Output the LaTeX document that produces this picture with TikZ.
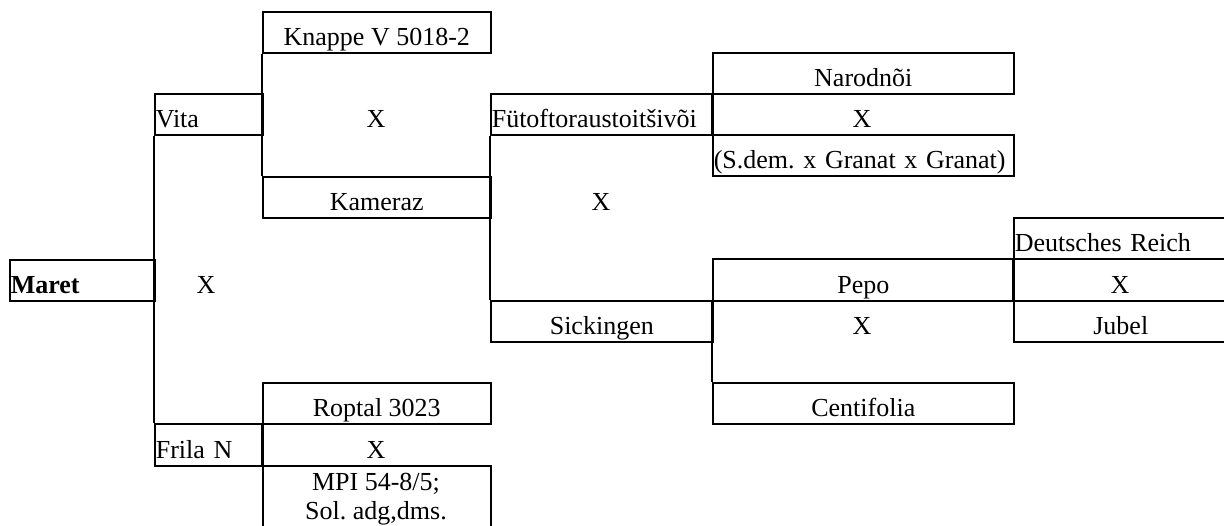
\documentclass[tikz,border=0pt]{standalone}
\usepackage{fontspec}
\setmainfont{Liberation Serif}
\begin{document}
\frenchspacing
\begin{tikzpicture}[x=1pt,y=-1pt,
  every node/.style={font=\fontsize{26}{30}\selectfont},
  ln/.style={line width=1.6pt},
  cell/.style={draw, line width=1.6pt, rectangle, anchor=north west, inner xsep=1pt, inner ysep=0pt,
    text height=34pt, text depth=7pt, minimum height=41pt},
  ccell/.style={cell},
  lcell/.style={cell, align=left},
  txt/.style={inner sep=0pt, anchor=base},
]
\useasboundingbox (0,0) rectangle (1224,525);

% column 1
\node[lcell, minimum width=145pt, text width=143pt, font=\fontsize{26}{30}\selectfont\bfseries] (maret) at (9,259) {Maret};
% column 2
\node[lcell, minimum width=108pt, text width=106pt] (vita) at (154,93) {Vita};
\node[lcell, minimum width=108pt, text width=106pt, minimum height=42pt] (frila) at (154,423) {Frila N};
% column 3
\node[ccell, minimum width=228pt] (knappe) at (262,11) {Knappe V 5018-2};
\node[ccell, minimum width=228pt] (kameraz) at (262,176) {Kameraz};
\node[ccell, minimum width=228pt] (roptal) at (262,382) {Roptal 3023};
\node[draw, line width=1.6pt, rectangle, anchor=north west, inner sep=0pt, minimum width=228pt, minimum height=80pt] (mpi) at (262,465) {};
% column 4
\node[lcell, minimum width=222pt, text width=220pt] (fut) at (490,93) {\mbox{Fütoftoraustoitšivõi}};
\node[ccell, minimum width=222pt] (sick) at (490,300) {Sickingen};
% column 5
\node[ccell, minimum width=301pt] (narod) at (712,52) {Narodnõi};
\node[lcell, minimum width=301pt, text width=299pt] (sdem) at (712,134) {\mbox{(S.dem. x Granat x Granat)}};
\node[ccell, minimum width=301pt, minimum height=42pt] (pepo) at (712,258) {Pepo};
\node[ccell, minimum width=301pt] (centi) at (712,382) {Centifolia};
% column 6
\node[lcell, minimum width=214pt, text width=212pt] (dr) at (1013,217) {\mbox{Deutsches Reich}};
\node[ccell, minimum width=214pt] (jubel) at (1013,300) {Jubel};

% connectors
\draw[ln] (vita.south west) -- (frila.north west);
\draw[ln] (knappe.south west) -- (kameraz.north west);
\draw[ln] (roptal.south west) -- (mpi.north west);
\draw[ln] (fut.south west) -- (sick.north west);
\draw[ln] (narod.south west) -- (sdem.north west);
\draw[ln] (pepo.south west) -- (centi.north west);
\draw[ln] (dr.south west) -- (jubel.north west);

% crosses
\node[txt] (x1) at (206,293) {X};
\node[txt] (x2) at (376,127) {X};
\node[txt] (x3) at (376,458) {X};
\node[txt] (x4) at (601,210) {X};
\node[txt] (x5) at (862,127) {X};
\node[txt] (x6) at (862,334) {X};
\node[txt] (x7) at (1120,293) {X};

% MPI text
\node[txt] (mpia) at (376,490) {MPI 54-8/5;};
\node[txt] (mpib) at (376,519) {Sol. adg,dms.};
\end{tikzpicture}
\end{document}
